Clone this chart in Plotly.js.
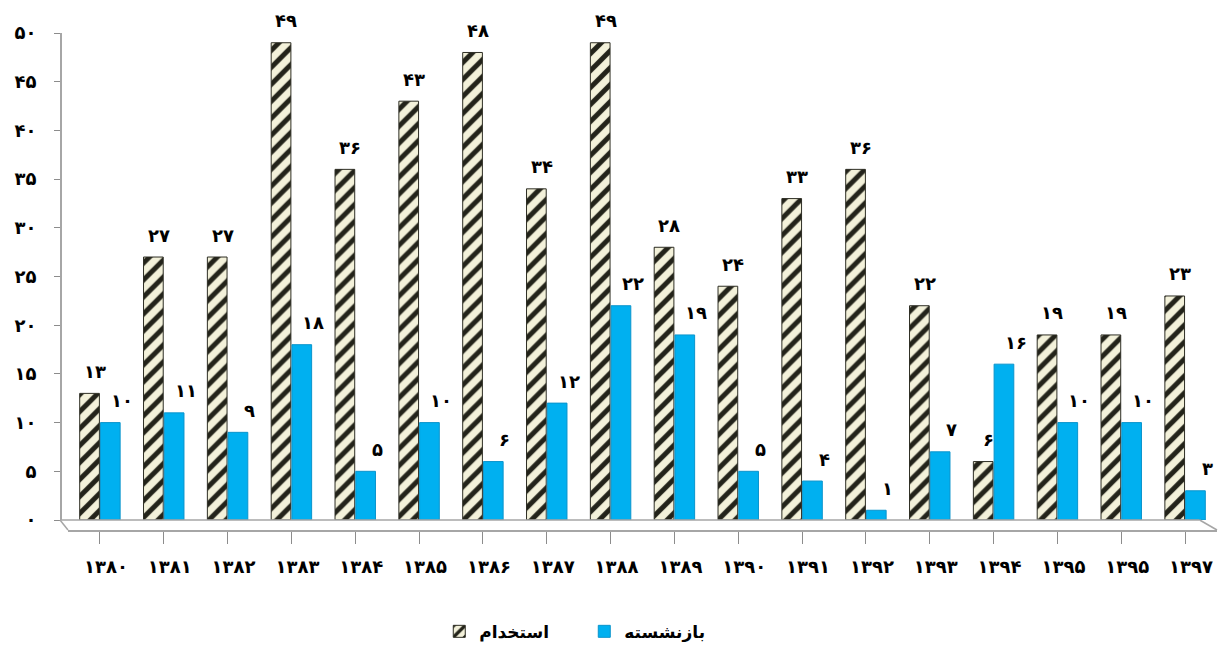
<!DOCTYPE html>
<html><head><meta charset="utf-8">
<script src="https://cdn.plot.ly/plotly-3.0.1.min.js"></script>
<style>html,body{margin:0;padding:0;background:#fff}#c{width:1227px;height:646px}</style>
</head><body><div id="c"></div>
<script>
const years = ["۱۳۸۰","۱۳۸۱","۱۳۸۲","۱۳۸۳","۱۳۸۴","۱۳۸۵","۱۳۸۶","۱۳۸۷","۱۳۸۸","۱۳۸۹","۱۳۹۰","۱۳۹۱","۱۳۹۲","۱۳۹۳","۱۳۹۴","۱۳۹۵","۱۳۹۵","۱۳۹۷"];
const hiring = [13,27,27,49,36,43,48,34,49,28,24,33,36,22,6,19,19,23];
const retired = [10,11,9,18,5,10,6,12,22,19,5,4,1,7,16,10,10,3];
const seriesNames = ["استخدام","بازنشسته"];
const yTicks = [0,5,10,15,20,25,30,35,40,45,50];

const fa = n => String(n).replace(/\d/g, d => "۰۱۲۳۴۵۶۷۸۹"[d]);
const idx = years.map((_, i) => i);
const FONT = "DejaVu Sans, sans-serif";

const traces = [
  {type:"bar", name:seriesNames[0], x:idx, y:hiring,
   marker:{color:"#f3f1da", line:{color:"#2e2e24", width:1},
     pattern:{shape:"/", fgcolor:"#23231a", bgcolor:"#f3f1da", size:12, solidity:0.42}}},
  {type:"bar", name:seriesNames[1], x:idx, y:retired,
   marker:{color:"#00b0f0", line:{color:"#0a94cc", width:1}}}
];

const ann = [];
hiring.forEach((v,i)=>ann.push({x:i, y:v, xref:"x", yref:"y", text:fa(v), showarrow:false,
  xshift:-5, yshift:22, yanchor:"middle", font:{family:FONT, size:18, color:"#000", weight:"bold"}}));
retired.forEach((v,i)=>ann.push({x:i, y:v, xref:"x", yref:"y", text:fa(v), showarrow:false,
  xshift:22, yshift:22, yanchor:"middle", font:{family:FONT, size:18, color:"#000", weight:"bold"}}));

const dY = 10/497, dX = 8/1157;
const layout = {
  width:1227, height:646,
  margin:{l:60, r:10, t:33, b:116, autoexpand:false},
  paper_bgcolor:"#fff", plot_bgcolor:"rgba(0,0,0,0)",
  barmode:"group", bargap:0.35, bargroupgap:0.05,
  font:{family:FONT, color:"#000"},
  xaxis:{domain:[dX,1], anchor:"free", position:0, range:[-0.5,17.5], automargin:false,
    tickmode:"array", tickvals:idx, ticktext:years, tickson:"boundaries",
    ticks:"outside", ticklen:12, tickcolor:"#8c8c8c", showline:true, linecolor:"#a6a6a6", linewidth:1.5,
    showgrid:false, zeroline:false, ticklabelshift:6, ticklabelstandoff:8,
    tickfont:{family:FONT, size:18, color:"#000", weight:"bold"}},
  yaxis:{domain:[dY,1], anchor:"free", position:0, range:[0,50], automargin:false,
    tickmode:"array", tickvals:yTicks, ticktext:yTicks.map(fa),
    ticks:"outside", ticklen:6, tickcolor:"#8c8c8c", showline:true, linecolor:"#a6a6a6", linewidth:1.5,
    showgrid:false, zeroline:false, ticklabelstandoff:14,
    tickfont:{family:FONT, size:18, color:"#000", weight:"bold"}},
  showlegend:true,
  legend:{orientation:"h", xref:"container", yref:"container", x:0.358, xanchor:"left", y:0.022, yanchor:"middle",
    font:{family:FONT, size:17, color:"#000", weight:"bold"}, itemwidth:30, tracegroupgap:0, entrywidth:100},
  annotations:ann,
  shapes:[
    {type:"line", xref:"paper", yref:"paper", x0:0, x1:0.985, y0:dY, y1:dY, line:{color:"#a6a6a6", width:1.5}},
    {type:"line", xref:"paper", yref:"paper", x0:0, x1:dX, y0:dY, y1:0, line:{color:"#a6a6a6", width:1.5}},
    {type:"line", xref:"paper", yref:"paper", x0:0.985, x1:1, y0:dY, y1:0, line:{color:"#a6a6a6", width:1.5}}
  ]
};
Plotly.newPlot("c", traces, layout, {displayModeBar:false, staticPlot:true});
</script></body></html>
